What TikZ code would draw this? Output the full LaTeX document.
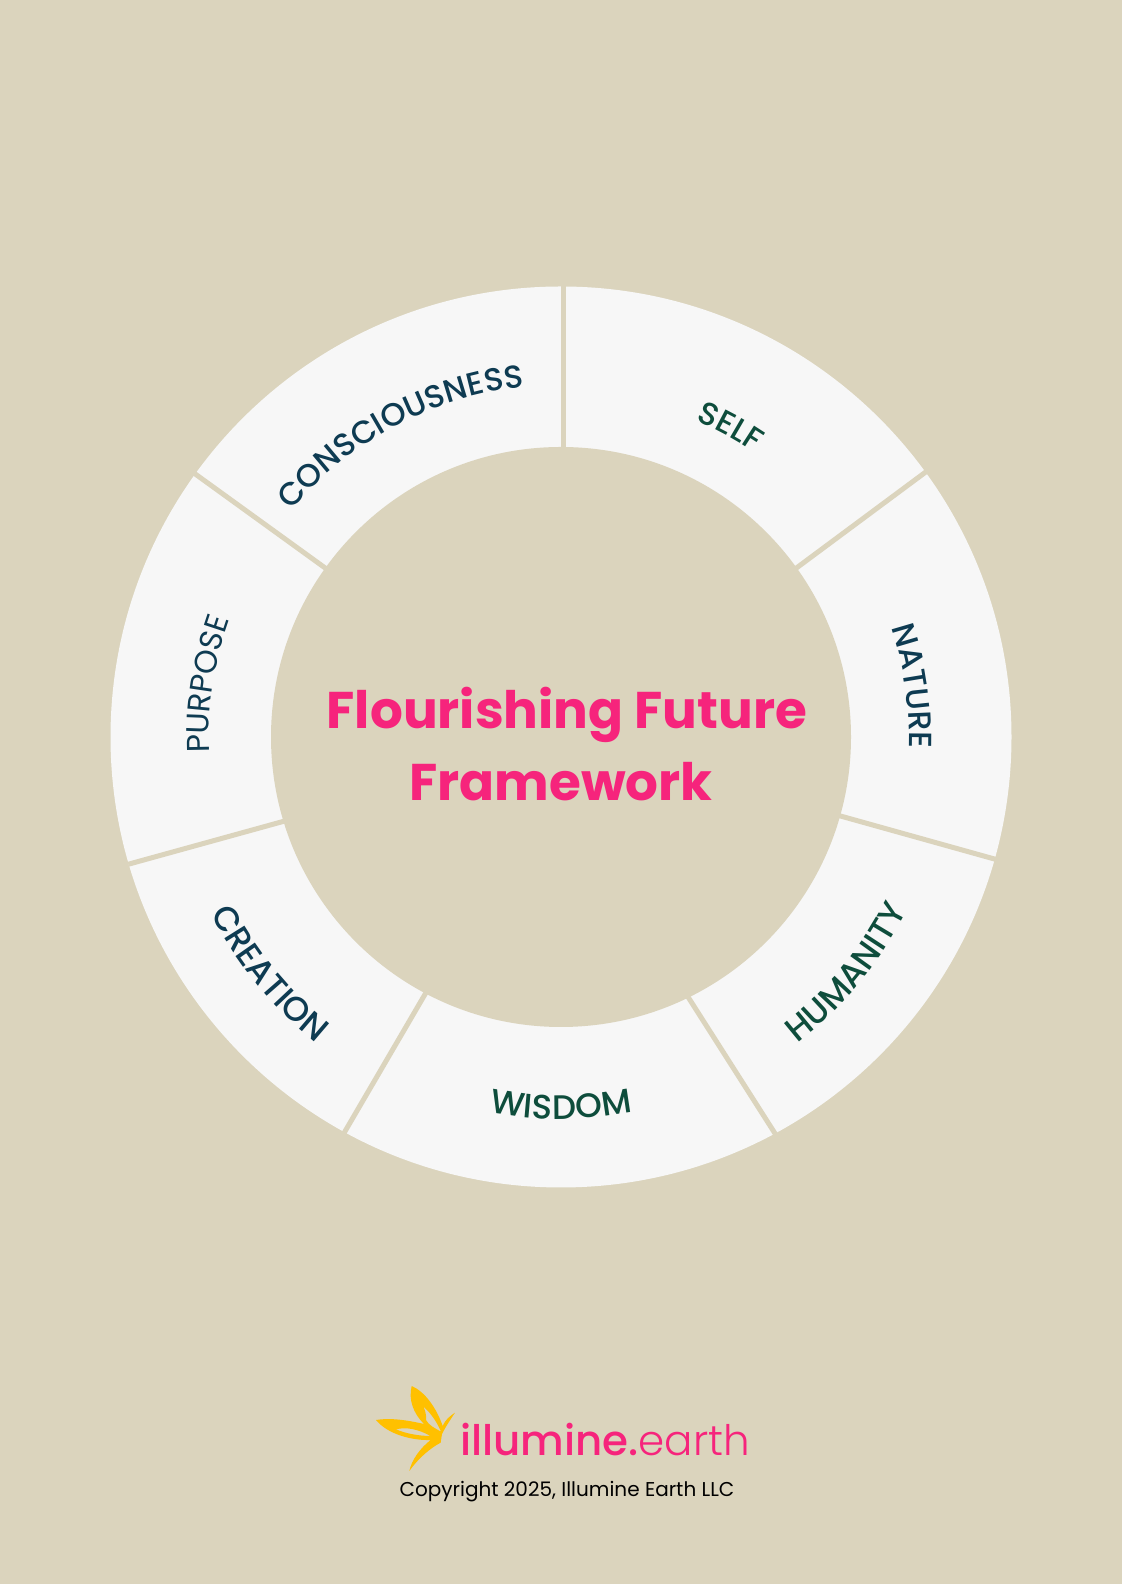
\documentclass[tikz,border=0pt]{standalone}
\usepackage{fontspec}
\usetikzlibrary{decorations.text}
\setmainfont{Poppins}
\newfontfamily\popm{Poppins Medium}
\newfontfamily\popb{Poppins Bold}
\newfontfamily\popl{Poppins Light}
\definecolor{bgc}{HTML}{DBD4BD}
\definecolor{ringc}{HTML}{F7F7F7}
\definecolor{pinkc}{HTML}{F6247C}
\definecolor{bluec}{HTML}{0E3B52}
\definecolor{greenc}{HTML}{0E4D3C}
\definecolor{goldc}{HTML}{FFC000}
\tikzset{
  sepline/.style={draw=bgc,line width=5pt,shorten >=-2pt,shorten <=-3pt},
}
\newcommand{\ringlabel}[6]{% radius, start, end, colour, text, font
  \path[decorate,decoration={text along path,text align=center,text color=#4,
     text={|#6|#5}}]
     (561,847) ++(#2:#1) arc[start angle=#2,end angle=#3,radius=#1];}
\begin{document}
\begin{tikzpicture}[x=1pt,y=1pt]
\useasboundingbox (0,0) rectangle (1122,1584);
\fill[bgc] (0,0) rectangle (1122,1584);
\foreach \r/\o in {470/0.012,464/0.012,458/0.012}{\fill[white,opacity=\o] (561,847) circle[radius=\r];}
\fill[ringc] (561,847) circle[radius=450.5];
\fill[bgc] (561,847) circle[radius=290];
% separators, coordinates in the shrunk reference
\begin{scope}[shift={(0,1584)},x=1.0099pt,y=-1.0102pt]
\coordinate (a1) at (558.4,443); \coordinate (b1) at (558.4,284);
\coordinate (a2) at (789,562);   \coordinate (b2) at (917,467);
\coordinate (a3) at (833,808);   \coordinate (b3) at (987,851);
\coordinate (a4) at (682,988);   \coordinate (b4) at (768,1123);
\coordinate (a5) at (421,984);   \coordinate (b5) at (341,1121);
\coordinate (a6) at (281,813);   \coordinate (b6) at (129,855);
\coordinate (a7) at (323,563);   \coordinate (b7) at (193,469);
\end{scope}
\foreach \i in {1,...,7}{\draw[sepline] (a\i) -- (b\i);}
% labels
\ringlabel{352}{158}{78}{bluec}{CONSCIOUSNESS}{\fontsize{32}{33}\popm}
\ringlabel{344}{101.4}{21.4}{greenc}{SELF}{\fontsize{32}{33}\popm}
\ringlabel{348}{48.2}{-31.8}{bluec}{NATURE}{\fontsize{32}{33}\popm}
\ringlabel{387}{-79.5}{0.5}{greenc}{HUMANITY}{\fontsize{34}{34}\popm}
\ringlabel{382}{-130}{-50}{greenc}{WISDOM}{\fontsize{34}{34}\popm}
\ringlabel{392}{179}{259}{bluec}{CREATION}{\fontsize{34}{34}\popm}
\ringlabel{352}{211.5}{131.5}{bluec}{PURPOSE}{\fontsize{31.5}{32}\fontspec{Poppins}}
% title
\node[anchor=base,inner sep=0pt,text=pinkc,font=\fontsize{51.6}{52}\popb] (title1) at (567,855) {Flourishing Future};
\node[anchor=base,inner sep=0pt,text=pinkc,font=\fontsize{51.6}{52}\popb] (title2) at (561,783) {Framework};
% logo
\begin{scope}[shift={(360,214)},x=0.3333pt,y=-0.3333pt]
\fill[goldc,even odd rule]
 (155,48) .. controls (195,65) and (230,115) .. (248,168)
 .. controls (255,150) and (270,138) .. (285,128)
 .. controls (272,148) and (258,168) .. (246,192)
 -- (242,218)
 .. controls (210,235) and (175,265) .. (148,303)
 .. controls (155,270) and (180,235) .. (212,210)
 .. controls (160,212) and (85,195) .. (48,150)
 .. controls (90,143) and (140,150) .. (192,162)
 .. controls (160,130) and (145,90) .. (155,48) -- cycle
 (108,178) .. controls (140,170) and (175,178) .. (212,198)
 .. controls (175,198) and (135,190) .. (108,178) -- cycle
 (190,110) .. controls (215,130) and (235,165) .. (243,185)
 .. controls (225,175) and (205,165) .. (198,150)
 .. controls (200,135) and (195,120) .. (190,110) -- cycle;
\end{scope}
\node[anchor=base west,inner sep=0pt,text=pinkc,font=\fontsize{42}{43}\selectfont] (brand) at (460,128) {{\popm illumine.}{\popl earth}};
\node[anchor=base,inner sep=0pt,text=black,font=\fontsize{20}{20}\selectfont] (copy) at (567,87) {Copyright 2025, Illumine Earth LLC};
\end{tikzpicture}
\end{document}
